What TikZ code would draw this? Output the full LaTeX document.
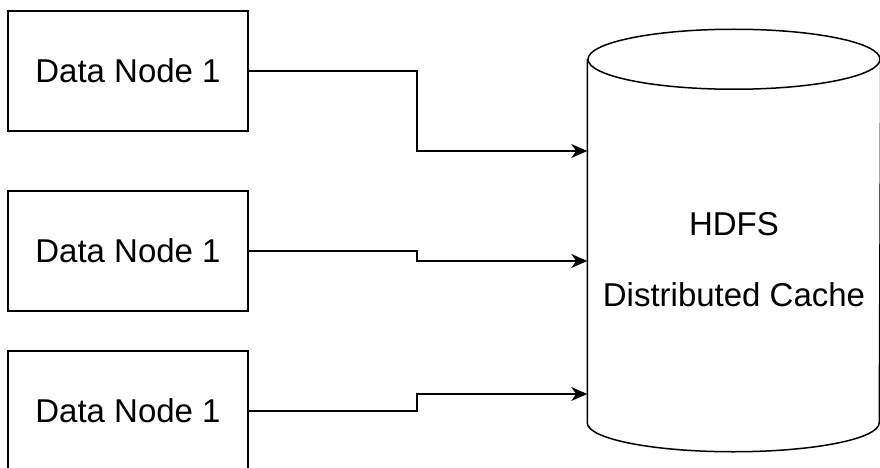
\documentclass[tikz,border=0pt]{standalone}
\usepackage{fontspec}
\setmainfont{Liberation Sans}
\usetikzlibrary{calc,arrows.meta}

\begin{document}
\begin{tikzpicture}[x=1pt,y=-1pt,line width=1.5pt,
	datanode/.style={draw,minimum width=240,minimum height=120,inner sep=0,font=\fontsize{33}{40}\selectfont},
	label/.style={inner sep=0,font=\fontsize{33}{40}\selectfont},
	arr/.style={-{Stealth[length=16pt,width=14pt,inset=5pt]}}]
		\useasboundingbox (0,0) rectangle (880,468);
		%data nodes
		\node[datanode] (dn1) at (128,71) {Data Node 1};
		\node[datanode] (dn2) at (128,251) {Data Node 1};
		\node[datanode] (dn3) at (128,411) {Data Node 1};
		
		%cylinder
		\node[minimum width=292,minimum height=362,inner sep=0] (hdfs) at (734,241) {};
		\draw (hdfs.north west) -- (hdfs.south west) arc[x radius=146,y radius=29,start angle=180,end angle=0] -- (hdfs.north east);
		\draw (hdfs.north) ellipse[x radius=146,y radius=30];
		\node[label] (name) at (734,224) {HDFS};
		\node[label] (cache) at (734,295) {Distributed Cache};
		
		%connectors
		\draw[arr] (dn1.east) -- (417,71) |- (hdfs.west |- 0,151);
		\draw[arr] (dn2.east) -- (417,251) |- (hdfs.west |- 0,261);
		\draw[arr] (dn3.east) -- (417,411) |- (hdfs.west |- 0,394);
		
\end{tikzpicture}
\end{document}
